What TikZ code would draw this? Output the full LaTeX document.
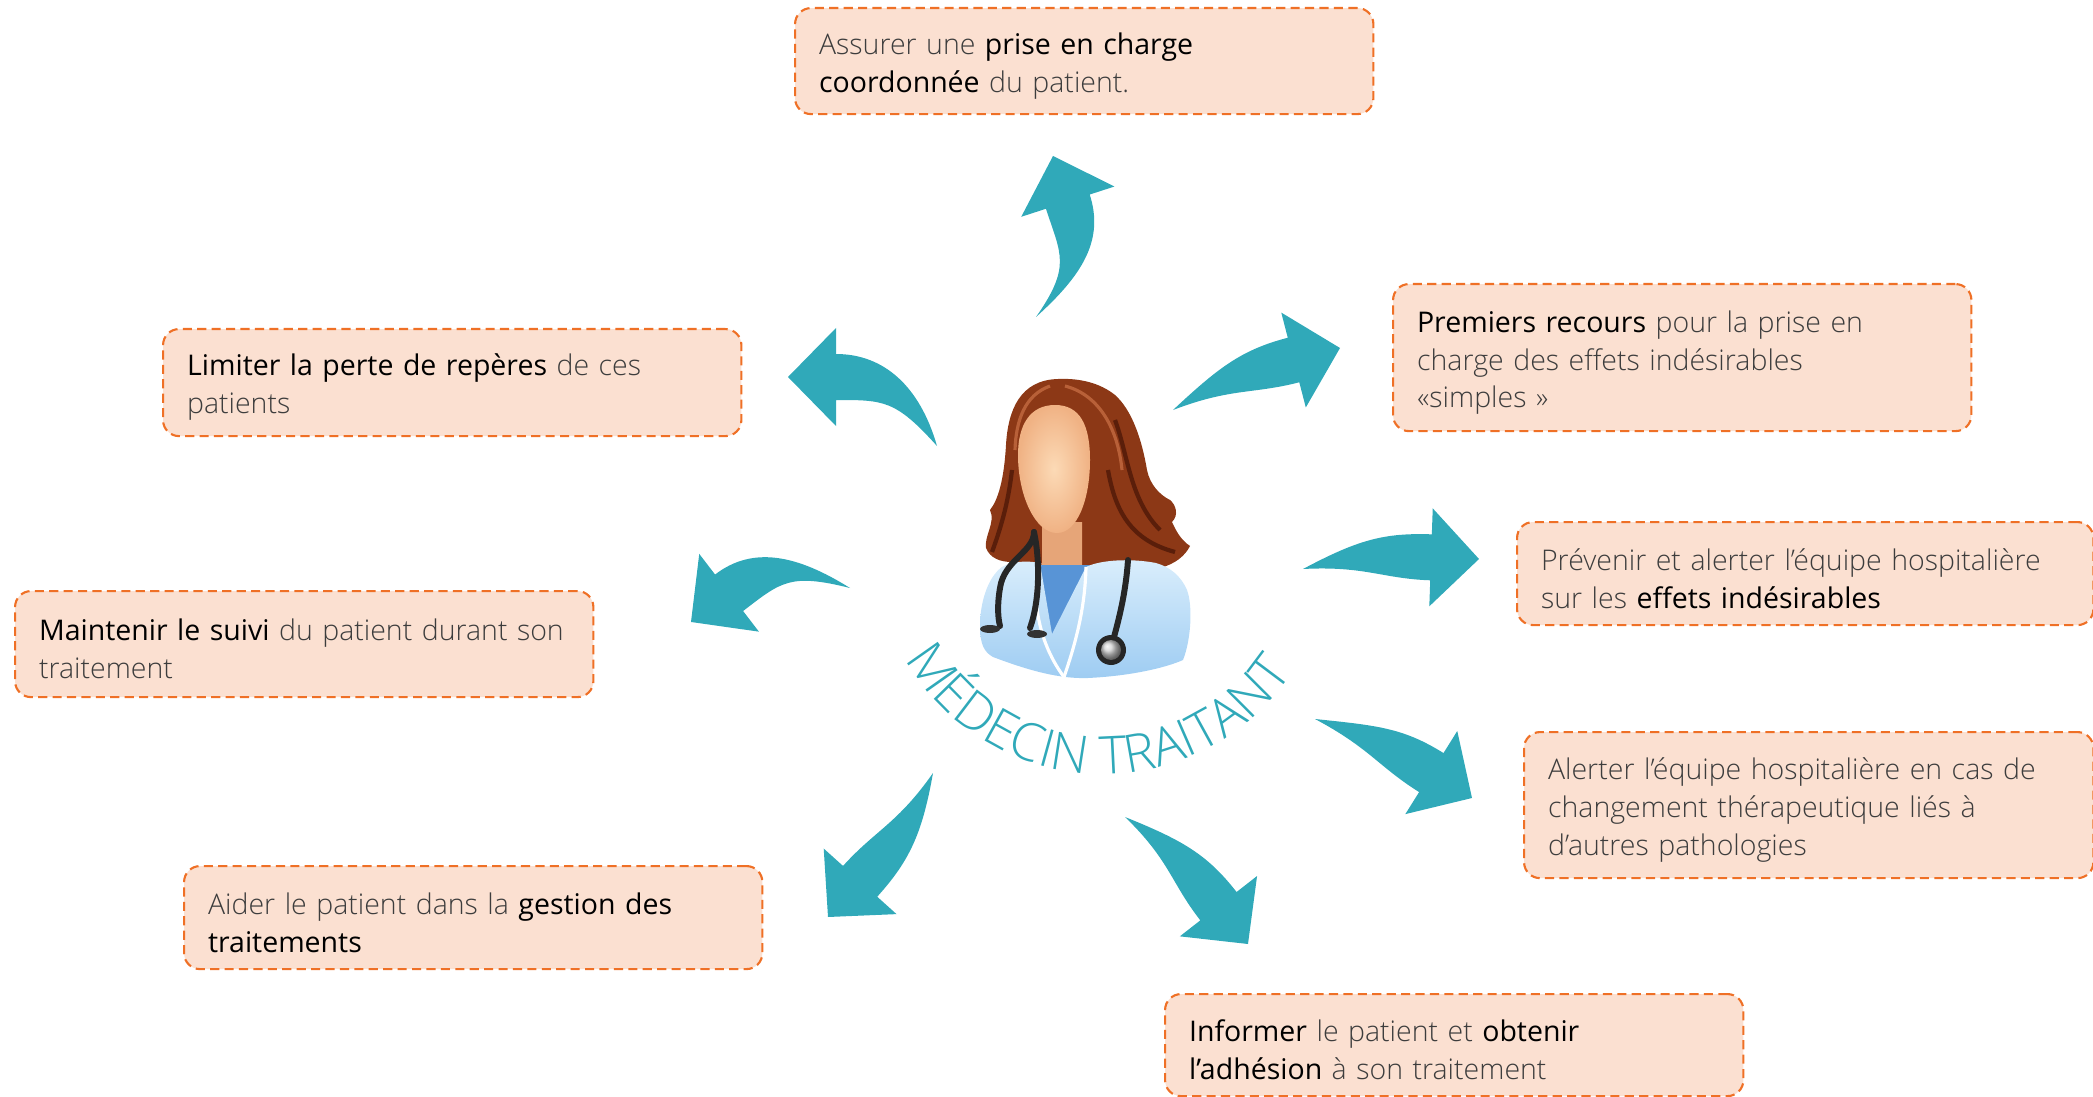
\documentclass[tikz,border=0pt]{standalone}
\usepackage{fontspec}
\IfFontExistsTF{Open Sans Light}{%
  \IfFontExistsTF{Open Sans SemiBold}{%
    \setmainfont{Open Sans Light}[BoldFont={Open Sans SemiBold}]}{%
    \setmainfont{Open Sans Light}[BoldFont={Open Sans}]}%
  \newfontfamily\arcfam{Open Sans Light}}{%
  \setmainfont{Open Sans}%
  \newfontfamily\arcfam{Open Sans}}
\usetikzlibrary{calc,decorations.text}

\definecolor{tealarr}{RGB}{48,169,185}
\definecolor{peach}{RGB}{251,224,209}
\definecolor{orangeline}{RGB}{239,112,38}
\definecolor{hairbrown}{RGB}{140,56,22}
\definecolor{hairdark}{RGB}{90,30,10}
\definecolor{hairlight}{RGB}{184,96,56}
\definecolor{skin}{RGB}{240,178,132}
\definecolor{skinlight}{RGB}{252,218,182}
\definecolor{neckskin}{RGB}{230,165,120}
\definecolor{coatlight}{RGB}{218,238,252}
\definecolor{coatblue}{RGB}{158,204,242}
\definecolor{shirtblue}{RGB}{88,148,214}

\newcommand{\boxfont}{\fontsize{8.1}{10.8}\selectfont}
\newcommand{\arcfont}{\arcfam\fontsize{14.9}{14.9}\selectfont}
\newcommand{\hl}[1]{\textbf{\color{black}#1}}

% curved arrow: name, tail, tip, head angle, tail angle (left edge), tail angle (right edge)
\newcommand{\tealarrow}[6]{%
  \coordinate (#1-t) at #2;
  \coordinate (#1-p) at #3;
  \coordinate (#1-b) at ($(#1-p)+(#4+180:48)$);
  \fill[arrowfill] (#1-t) .. controls +(#5:62) and +(#4+180:48) .. ($(#1-b)+(#4+90:23)$)
    -- ($(#1-b)+(#4+90:49)$) -- (#1-p) -- ($(#1-b)+(#4-90:49)$) -- ($(#1-b)+(#4-90:23)$)
    .. controls +(#4+180:48) and +(#6:62) .. (#1-t) -- cycle;
}

\tikzset{
  box/.style={draw=orangeline, fill=peach, line width=0.6pt,
    dash pattern=on 2.6pt off 1.5pt, rounded corners=0.16cm,
    anchor=north west, align=left, inner xsep=0.24cm, inner ysep=0pt,
    font=\boxfont, text=black!76,
    execute at begin node={\rule{0pt}{9pt}}},
  arrowfill/.style={fill=tealarr},
  steth/.style={line width=1.7pt, draw=black!85, line cap=round}
}

\begin{document}
\begin{tikzpicture}[x=0.01cm, y=0.01cm]
  \useasboundingbox (0,0) rectangle (2093,-1097);

  % boxes
  \node[box, text width=5.30cm, minimum height=1.06cm] (assurer) at (794,-7)
    {Assurer une \hl{prise en charge}\\ \hl{coordonnée} du patient.};
  \node[box, text width=5.30cm, minimum height=1.47cm] (recours) at (1392,-283)
    {\hl{Premiers recours} pour la prise en\\ charge des effets indésirables\\ «simples~»};
  \node[box, text width=5.28cm, minimum height=1.03cm] (prevenir) at (1516,-521)
    {Prévenir et alerter l’équipe hospitalière\\ sur les \hl{effets indésirables}};
  \node[box, text width=5.21cm, minimum height=1.46cm] (alerter) at (1523,-731)
    {Alerter l’équipe hospitalière en cas de\\ changement thérapeutique liés à\\ d’autres pathologies};
  \node[box, text width=5.30cm, minimum height=1.02cm] (informer) at (1164,-993)
    {\hl{Informer} le patient et \hl{obtenir}\\ \hl{l’adhésion} à son traitement};
  \node[box, text width=5.30cm, minimum height=1.03cm] (aider) at (183,-865)
    {Aider le patient dans la \hl{gestion des}\\ \hl{traitements}};
  \node[box, text width=5.30cm, minimum height=1.06cm] (suivi) at (14,-590)
    {\hl{Maintenir le suivi} du patient durant son\\ traitement};
  \node[box, text width=5.30cm, minimum height=1.07cm] (limiter) at (162,-328)
    {\hl{Limiter la perte de repères} de ces\\ patients};

  % arrows
  \tealarrow{aassurer}{(1036,-317)}{(1053,-156)}{108}{55}{42}
  \tealarrow{arecours}{(1173,-410)}{(1340,-348)}{14.5}{43}{21}
  \tealarrow{alimiter}{(937,-446)}{(788,-377)}{180}{132}{106}
  \tealarrow{asuivi}{(850,-588)}{(691,-622)}{217.5}{166}{148}
  \tealarrow{aaider}{(933,-773)}{(828,-917)}{228}{260}{235}
  \tealarrow{ainformer}{(1125,-817)}{(1248,-944)}{308}{338}{316}
  \tealarrow{aalerter}{(1315,-719)}{(1472,-798)}{328}{354}{332}
  \tealarrow{aprevenir}{(1303,-569)}{(1479,-559)}{358}{28}{3}

  % doctor
  \fill[hairbrown] (1058,-379) .. controls (1020,-380) and (1008,-410) .. (1006,-445)
    .. controls (1004,-480) and (998,-500) .. (990,-510)
    .. controls (996,-522) and (984,-536) .. (986,-548)
    .. controls (990,-558) and (1000,-562) .. (1012,-562)
    .. controls (1030,-562) and (1060,-572) .. (1080,-576)
    .. controls (1110,-579) and (1140,-575) .. (1160,-568)
    .. controls (1175,-564) and (1185,-556) .. (1190,-546)
    .. controls (1181,-540) and (1176,-531) .. (1172,-522)
    .. controls (1179,-515) and (1176,-505) .. (1170,-500)
    .. controls (1160,-495) and (1150,-485) .. (1147,-470)
    .. controls (1142,-440) and (1132,-410) .. (1115,-395)
    .. controls (1100,-383) and (1080,-378) .. (1058,-379) -- cycle;
  \draw[hairdark, line width=1.2pt] (1115,-420) .. controls (1128,-455) and (1130,-500) .. (1160,-530);
  \draw[hairdark, line width=1.2pt] (1108,-470) .. controls (1115,-510) and (1130,-540) .. (1175,-552);
  \draw[hairdark, line width=1.2pt] (1012,-470) .. controls (1008,-505) and (1000,-530) .. (992,-552);
  \draw[hairlight, line width=0.9pt] (1065,-386) .. controls (1100,-395) and (1118,-430) .. (1122,-470);
  \draw[hairlight, line width=0.9pt] (1050,-386) .. controls (1025,-395) and (1016,-420) .. (1015,-450);
  \fill[neckskin] (1042,-522) -- (1042,-578) .. controls (1050,-592) and (1074,-592) .. (1082,-578) -- (1082,-522) -- cycle;
  \fill[shirtblue] (1036,-565) -- (1090,-565) -- (1052,-642) -- cycle;
  \shade[top color=coatlight, bottom color=coatblue] (1002,-567)
    .. controls (988,-577) and (980,-602) .. (980,-626)
    .. controls (980,-644) and (984,-652) .. (993,-657)
    .. controls (1030,-671) and (1060,-679) .. (1088,-678)
    .. controls (1130,-676) and (1165,-668) .. (1183,-660)
    .. controls (1191,-640) and (1193,-606) .. (1187,-590)
    .. controls (1181,-576) and (1170,-567) .. (1156,-563)
    .. controls (1130,-558) and (1100,-560) .. (1086,-567)
    -- (1052,-634) -- (1040,-563)
    .. controls (1025,-560) and (1010,-562) .. (1002,-567) -- cycle;
  \draw[white, line width=0.9pt] (1040,-563) .. controls (1030,-600) and (1040,-645) .. (1064,-677);
  \draw[white, line width=0.9pt] (1086,-567) .. controls (1085,-610) and (1075,-645) .. (1064,-677);
  \shade[inner color=skinlight, outer color=skin] (1055,-405)
    .. controls (1030,-405) and (1018,-425) .. (1018,-455)
    .. controls (1018,-495) and (1035,-533) .. (1057,-533)
    .. controls (1077,-533) and (1090,-500) .. (1090,-460)
    .. controls (1090,-425) and (1080,-405) .. (1055,-405) -- cycle;
  \draw[steth] (1034,-532) .. controls (1034,-552) and (1004,-560) .. (1000,-588)
    .. controls (997,-606) and (998,-618) .. (1000,-626);
  \draw[steth] (1034,-532) .. controls (1040,-560) and (1040,-600) .. (1030,-628);
  \fill[black!80] (990,-629) ellipse (10 and 4);
  \fill[black!80] (1037,-634) ellipse (10 and 4);
  \draw[steth] (1128,-560) .. controls (1126,-590) and (1120,-615) .. (1114,-637);
  \fill[black!85] (1111,-650) circle (15);
  \shade[ball color=gray!35] (1111,-650) circle (10);

  % title on arc
  \path[decorate, decoration={text along path, text align=center, text color=tealarr,
      text={|\arcfont|MÉDECIN TRAITANT}}]
    (1103,-547) ++(188:227) arc[start angle=188, end angle=348, radius=227];
\end{tikzpicture}
\end{document}
